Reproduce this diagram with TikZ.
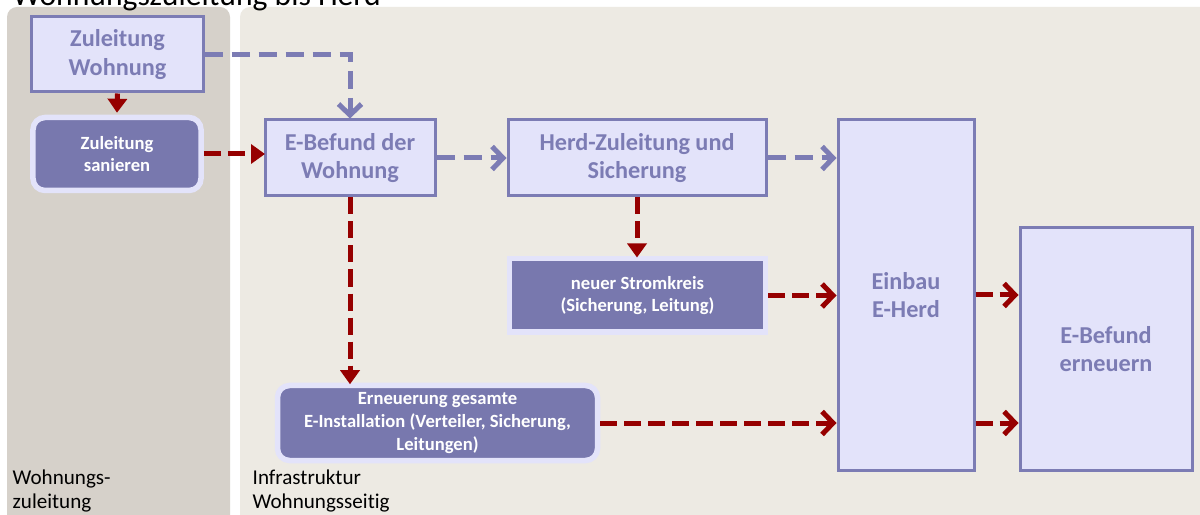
\documentclass[tikz,border=0pt]{standalone}
\usepackage{fontspec}
\setmainfont[Ligatures=NoCommon]{Carlito}
\usetikzlibrary{arrows.meta}

\begin{document}
\begin{tikzpicture}[x=0.2mm, y=-0.2mm, thick,
    hellbox/.style={draw=linelav, line width=0.6mm, fill=boxlav, text=linelav, align=center,
        font=\fontsize{13.8}{16}\selectfont\bfseries, minimum width=#1},
    dunkelbox/.style={draw=boxlav, line width=1.1mm, fill=darklav, text=white, align=center,
        font=\fontsize{10.6}{13}\selectfont\bfseries, minimum width=#1},
    lavpfeil/.style={draw=linelav, line width=1mm, dash pattern=on 3.6mm off 1.8mm,
        -{Straight Barb[length=2.2mm, width=4.6mm, line width=1mm]}},
    rotpfeil/.style={draw=darkred, line width=1mm, dash pattern=on 3.4mm off 1.4mm,
        -{Straight Barb[length=2.2mm, width=4.6mm, line width=1mm]}},
    rotspitze/.style={draw=darkred, line width=1mm, dash pattern=on 3.4mm off 1.4mm,
        -{Triangle[length=2.8mm, width=3.8mm]}, shorten >=-0.3mm},
    bereich/.style={font=\fontsize{12}{13.5}\selectfont, align=left, anchor=north west, inner sep=0pt}]
    % Farben
    \definecolor{linelav}{RGB}{124,124,180}
    \definecolor{boxlav}{RGB}{227,227,250}
    \definecolor{darklav}{RGB}{120,120,174}
    \definecolor{darkred}{RGB}{150,0,0}
    \definecolor{panelgrau}{RGB}{214,209,202}
    \definecolor{panelhell}{RGB}{237,234,227}

    \useasboundingbox (0,0) rectangle (1200,515);
    \clip (0,0) rectangle (1200,515);
    \fill[white] (0,0) rectangle (1200,515);

    % Bereiche
    \fill[panelgrau, rounded corners=2mm] (7,7) rectangle (230,540);
    \fill[panelhell, rounded corners=2mm] (240,7) rectangle (1230,540);
    \node[anchor=base west, inner sep=0pt, font=\fontsize{18}{20}\selectfont] (titel) at (12,6) {Wohnungszuleitung bis Herd};
    \node[bereich] (links) at (12,469) {Wohnungs-\\zuleitung};
    \node[bereich] (rechts) at (252,469) {Infrastruktur\\Wohnungsseitig};

    % Knoten
    \node[hellbox=34.2mm, minimum height=15mm] (zuleitung) at (117.5,54.5) {Zuleitung\\Wohnung};
    \node[dunkelbox=33.6mm, minimum height=14.6mm, rounded corners=2.4mm] (sanieren) at (117,154) {Zuleitung\\sanieren};
    \node[hellbox=34mm, minimum height=15.2mm] (befund) at (350,158) {E-Befund der\\Wohnung};
    \node[hellbox=51.6mm, minimum height=15.2mm] (herd) at (637,158) {Herd-Zuleitung und\\Sicherung};
    \node[hellbox=27.2mm, minimum height=70mm] (einbau) at (906,295) {Einbau\\E-Herd};
    \node[hellbox=34.4mm, minimum height=48.4mm] (erneuern) at (1106,349) {E-Befund\\erneuern};
    \node[dunkelbox=51.2mm, minimum height=14.7mm] (stromkreis) at (637.5,295.5) {neuer Stromkreis\\(Sicherung, Leitung)};
    \node[dunkelbox=64mm, minimum height=15mm, rounded corners=2.4mm] (gesamt) at (437.5,423) {Erneuerung gesamte\\E-Installation (Verteiler, Sicherung,\\Leitungen)};

    % Verbindungen
    \draw[darkred, line width=1mm, -{Triangle[length=2.8mm, width=3.8mm]}] (zuleitung.south) -- ([yshift=0.4mm]sanieren.north);
    \draw[lavpfeil] (zuleitung.east) -| (befund.north);
    \draw[rotspitze] (sanieren.east) -- (sanieren.east -| befund.west);
    \draw[lavpfeil] (befund.east) -- (herd.west);
    \draw[lavpfeil] (herd.east) -- (herd.east -| einbau.west);
    \draw[rotspitze] (befund.south) -- (befund.south |- gesamt.north);
    \draw[rotspitze] (herd.south) -- (herd.south |- stromkreis.north);
    \draw[rotpfeil] (stromkreis.east) -- (stromkreis.east -| einbau.west);
    \draw[rotpfeil] (gesamt.east) -- (gesamt.east -| einbau.west);
    \draw[rotpfeil] (einbau.east) -- (einbau.east -| erneuern.west);
    \draw[rotpfeil] (gesamt.east -| einbau.east) -- (gesamt.east -| erneuern.west);
\end{tikzpicture}
\end{document}
